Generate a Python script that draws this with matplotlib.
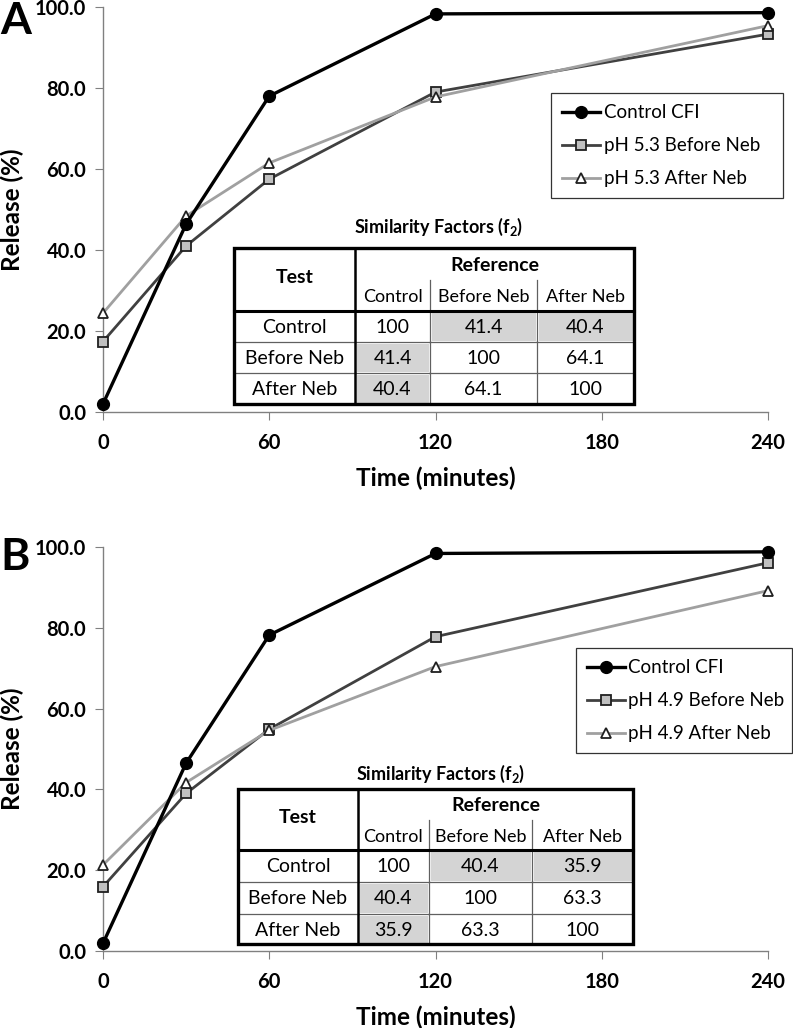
import matplotlib
matplotlib.use('Agg')
import matplotlib.pyplot as plt
from matplotlib.patches import Rectangle

plt.rcParams['font.family'] = ['Lato', 'DejaVu Sans']
plt.rcParams['mathtext.fontset'] = 'custom'
plt.rcParams['mathtext.rm'] = 'Lato'
plt.rcParams['mathtext.bf'] = 'Lato:bold'

# release data (% released)
time_min = [0, 30, 60, 120, 240]
ctrl_a = [2.0, 46.4, 78.0, 98.3, 98.6]
before_a = [17.4, 41.0, 57.5, 79.0, 93.3]
after_a = [24.4, 48.4, 61.5, 77.8, 95.4]

ctrl_b = [1.9, 46.5, 78.2, 98.4, 98.8]
before_b = [15.9, 39.0, 54.9, 77.8, 96.1]
after_b = [21.3, 41.7, 54.6, 70.4, 89.2]

labels_a = ['Control CFI', 'pH 5.3 Before Neb', 'pH 5.3 After Neb']
labels_b = ['Control CFI', 'pH 4.9 Before Neb', 'pH 4.9 After Neb']

# similarity factors f2 (rows = test, cols = reference)
f2_names = ['Control', 'Before Neb', 'After Neb']
f2_a = [[100, 41.4, 40.4], [41.4, 100, 64.1], [40.4, 64.1, 100]]
f2_b = [[100, 40.4, 35.9], [40.4, 100, 63.3], [35.9, 63.3, 100]]

W, H = 793, 1028
fig = plt.figure(figsize=(W / 100, H / 100), dpi=100)


def px_axes(left, top, right, bottom):
    return fig.add_axes([left / W, 1 - bottom / H, (right - left) / W, (bottom - top) / H])


def draw_panel(ax, ctrl, before, after, labels, legend_box):
    ax.plot(time_min, ctrl, color='black', lw=2.4, marker='o', ms=8.5,
            mfc='black', mec='black', clip_on=False, zorder=5, label=labels[0])
    ax.plot(time_min, before, color='#404040', lw=2.0, marker='s', ms=7.5,
            mfc='#c0c0c0', mec='#202020', mew=1.3, clip_on=False, zorder=4, label=labels[1])
    ax.plot(time_min, after, color='#a0a0a0', lw=2.0, marker='^', ms=7.5,
            mfc='white', mec='#202020', mew=1.3, clip_on=False, zorder=4, label=labels[2])
    ax.set_xlim(0, 240)
    ax.set_ylim(0, 100)
    ax.set_xticks([0, 60, 120, 180, 240])
    ax.set_yticks([0, 20, 40, 60, 80, 100])
    ax.set_yticklabels(['%.1f' % v for v in [0, 20, 40, 60, 80, 100]])
    for s in ['top', 'right']:
        ax.spines[s].set_visible(False)
    for s in ['left', 'bottom']:
        ax.spines[s].set_color('#808080')
        ax.spines[s].set_linewidth(1.0)
    ax.tick_params(axis='both', direction='out', color='#808080', length=6,
                   labelsize=14.5)
    ax.tick_params(axis='x', pad=9)
    ax.tick_params(axis='y', pad=6)
    for t in ax.get_xticklabels() + ax.get_yticklabels():
        t.set_fontweight('bold')
    ax.set_ylabel('Release (%)', fontsize=17.5, fontweight='bold', labelpad=8)
    ax.set_xlabel('Time (minutes)', fontsize=17.5, fontweight='bold', labelpad=10)
    ax.patch.set_alpha(0)
    l, t, r, b = legend_box
    leg = ax.legend(loc='upper left',
                    bbox_to_anchor=(l / W, 1 - b / H, (r - l) / W, (b - t) / H),
                    bbox_transform=fig.transFigure, mode='expand',
                    fontsize=13.5, frameon=True, fancybox=False,
                    handlelength=2.0, handletextpad=0.2, labelspacing=0.85,
                    borderpad=0.6, borderaxespad=0)
    leg.get_frame().set_edgecolor('black')
    leg.get_frame().set_linewidth(0.9)


ax_a = px_axes(103, 7, 768, 412)
draw_panel(ax_a, ctrl_a, before_a, after_a, labels_a, (551, 93, 783, 202))
ax_b = px_axes(103, 547, 768, 951)
draw_panel(ax_b, ctrl_b, before_b, after_b, labels_b, (576, 648, 792, 754))

fig.text(0.0, 1 - 1 / H, 'A', fontsize=32, fontweight='bold', va='top', ha='left')
fig.text(0.0, 1 - 537 / H, 'B', fontsize=32, fontweight='bold', va='top', ha='left')

# overlay in pixel coordinates for the f2 tables
ov = fig.add_axes([0, 0, 1, 1])
ov.set_xlim(0, W)
ov.set_ylim(H, 0)
ov.axis('off')
ov.patch.set_alpha(0)

FS = 14
FS_SUB = 13


def draw_table(vals, left, right, top, hbot, r1, r2, bottom, cols, title_y):
    c0, c1, c2 = cols
    xs = [left, c0, c1, c2, right]
    ys = [hbot, r1, r2, bottom]
    ov.add_patch(Rectangle((left, top), right - left, bottom - top,
                           facecolor='white', edgecolor='none', zorder=2))
    for i in range(3):
        for j in range(3):
            if (i == 0 and j > 0) or (j == 0 and i > 0):
                ov.add_patch(Rectangle((xs[j + 1] + 1.5, ys[i] + 1.5),
                                       xs[j + 2] - xs[j + 1] - 3, ys[i + 1] - ys[i] - 3,
                                       facecolor='#d4d4d4', edgecolor='none', zorder=3))
            v = vals[i][j]
            txt = '%g' % v
            ov.text((xs[j + 1] + xs[j + 2]) / 2, (ys[i] + ys[i + 1]) / 2 + 1, txt,
                    ha='center', va='center', fontsize=FS, zorder=5)
        ov.text((left + c0) / 2, (ys[i] + ys[i + 1]) / 2 + 1, f2_names[i],
                ha='center', va='center', fontsize=FS, zorder=5)
    # thin lines
    for y in [r1, r2]:
        ov.plot([left, right], [y, y], color='#606060', lw=0.9, zorder=4)
    sub_top = top + (hbot - top) * 0.5
    for x in [c1, c2]:
        ov.plot([x, x], [sub_top, bottom], color='#606060', lw=0.9, zorder=4)
    # thick lines
    ov.plot([left, right], [hbot, hbot], color='black', lw=2.2, zorder=6)
    ov.plot([c0, c0], [top, bottom], color='black', lw=1.8, zorder=6)
    ov.add_patch(Rectangle((left, top), right - left, bottom - top,
                           facecolor='none', edgecolor='black', lw=2.4, zorder=7))
    ov.text((left + c0) / 2, (top + hbot) / 2 - 2, 'Test', ha='center', va='center',
            fontsize=FS, fontweight='bold', zorder=5)
    ov.text((c0 + right) / 2, top + (hbot - top) * 0.27, 'Reference', ha='center',
            va='center', fontsize=FS, fontweight='bold', zorder=5)
    for j in range(3):
        ov.text((xs[j + 1] + xs[j + 2]) / 2, top + (hbot - top) * 0.78, f2_names[j],
                ha='center', va='center', fontsize=FS_SUB, zorder=5)
    ov.text((left + right) / 2 + 5, title_y, r'Similarity Factors (f$_{\mathbf{2}}$)',
            ha='center', va='center', fontsize=13, fontweight='bold', zorder=5)


draw_table(f2_a, 234, 634, 248, 311, 342, 373, 404, (355, 430, 537), 227)
draw_table(f2_b, 238, 633, 789, 850, 882, 914, 944, (358, 429, 532), 774)

fig.savefig('out.png', dpi=100)
